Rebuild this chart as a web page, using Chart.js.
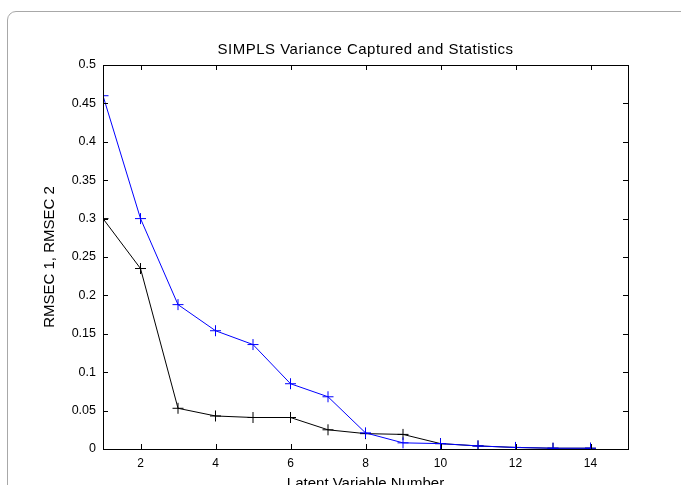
<!DOCTYPE html>
<html>
<head>
<meta charset="utf-8">
<script src="https://cdn.jsdelivr.net/npm/chart.js@4/dist/chart.umd.min.js"></script>
<style>
  html, body { margin: 0; padding: 0; background: #fff; overflow: hidden; }
  #frame {
    position: absolute; left: 7px; top: 11px; width: 720px; height: 520px;
    border: 1px solid #a8a8a8; border-radius: 9px;
  }
  #wrap { position: absolute; left: 0; top: 0; width: 681px; height: 485px; }
</style>
</head>
<body>
<div id="frame"></div>
<div id="wrap"><canvas id="simplsChart" width="681" height="485"></canvas></div>
<script>
const latentVars = [1, 2, 3, 4, 5, 6, 7, 8, 9, 10, 11, 12, 13, 14]
const rmsec1 = [0.460, 0.300, 0.188, 0.154, 0.136, 0.085, 0.068, 0.021, 0.008, 0.007, 0.004, 0.002, 0.001, 0.001]
const rmsec2 = [0.300, 0.235, 0.053, 0.043, 0.041, 0.041, 0.025, 0.020, 0.019, 0.007, 0.004, 0.002, 0.001, 0.001]
const xTicks = [2, 4, 6, 8, 10, 12, 14]
const yTicks = [0, 0.05, 0.1, 0.15, 0.2, 0.25, 0.3, 0.35, 0.4, 0.45, 0.5]
const chartTitle = 'SIMPLS Variance Captured and Statistics'

const fontFamily = "'Liberation Sans', Arial, Helvetica, sans-serif"

// matlab style box with ticks pointing inward, title centred over the axes
const boxTicks = {
  id: 'boxTicks',
  afterDraw (chart) {
    const { ctx, chartArea: a, scales } = chart
    ctx.save()
    ctx.strokeStyle = '#000'
    ctx.lineWidth = 1
    ctx.beginPath()
    xTicks.forEach(v => {
      const x = Math.round(scales.x.getPixelForValue(v)) + 0.5
      ctx.moveTo(x, a.bottom); ctx.lineTo(x, a.bottom - 5)
      ctx.moveTo(x, a.top); ctx.lineTo(x, a.top + 5)
    })
    yTicks.forEach(v => {
      const y = Math.round(scales.y.getPixelForValue(v)) + 0.5
      ctx.moveTo(a.left, y); ctx.lineTo(a.left + 5, y)
      ctx.moveTo(a.right, y); ctx.lineTo(a.right - 5, y)
    })
    ctx.stroke()
    ctx.strokeRect(Math.round(a.left) + 0.5, Math.round(a.top) + 0.5,
      Math.round(a.right - a.left), Math.round(a.bottom - a.top))

    ctx.fillStyle = '#000'
    ctx.font = '15px ' + fontFamily
    ctx.letterSpacing = '0.5px'
    ctx.textAlign = 'center'
    ctx.textBaseline = 'alphabetic'
    ctx.fillText(chartTitle, (a.left + a.right) / 2, a.top - 11)
    ctx.restore()
  }
}

new Chart(document.getElementById('simplsChart'), {
  type: 'line',
  data: {
    datasets: [
      {
        label: 'RMSEC 1',
        data: latentVars.map((x, i) => ({ x, y: rmsec1[i] })),
        borderColor: '#0000ff',
        backgroundColor: '#0000ff',
        borderWidth: 1,
        pointStyle: 'cross',
        pointRadius: 5.5,
        pointBorderWidth: 1,
        tension: 0
      },
      {
        label: 'RMSEC 2',
        data: latentVars.map((x, i) => ({ x, y: rmsec2[i] })),
        borderColor: '#000000',
        backgroundColor: '#000000',
        borderWidth: 1,
        pointStyle: 'cross',
        pointRadius: 5.5,
        pointBorderWidth: 1,
        tension: 0
      }
    ]
  },
  options: {
    responsive: false,
    animation: false,
    layout: { padding: { left: 0, right: 53, top: 65, bottom: -8 } },
    plugins: {
      legend: { display: false },
      tooltip: { enabled: false },
      title: { display: false }
    },
    scales: {
      x: {
        type: 'linear',
        min: 1,
        max: 15,
        afterBuildTicks: s => { s.ticks = xTicks.map(v => ({ value: v })) },
        afterFit: s => { s.height = 44 },
        grid: { display: false, drawTicks: false },
        border: { display: false },
        ticks: { color: '#000', padding: 7, font: { family: fontFamily, size: 12 } },
        title: {
          display: true,
          text: 'Latent Variable Number',
          color: '#000',
          font: { family: fontFamily, size: 15 },
          padding: { top: 0, bottom: 0 }
        }
      },
      y: {
        min: 0,
        max: 0.5,
        afterBuildTicks: s => { s.ticks = yTicks.map(v => ({ value: v })) },
        afterFit: s => { s.width = 103 },
        grid: { display: false, drawTicks: false },
        border: { display: false },
        ticks: {
          color: '#000',
          padding: 7,
          font: { family: fontFamily, size: 12.5 },
          callback: v => String(+v.toFixed(2))
        },
        title: {
          display: true,
          text: 'RMSEC 1, RMSEC 2',
          color: '#000',
          font: { family: fontFamily, size: 15 },
          padding: { top: 41, bottom: 0 }
        }
      }
    }
  },
  plugins: [boxTicks]
})
</script>
</body>
</html>
